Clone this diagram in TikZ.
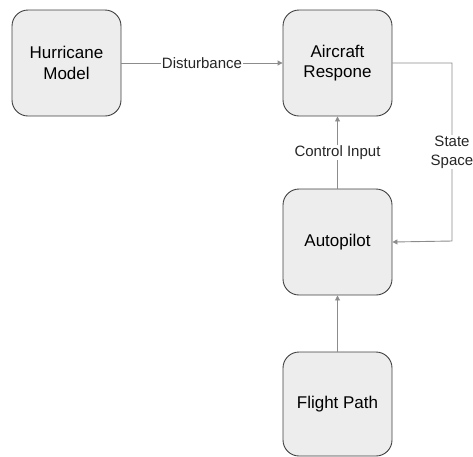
\documentclass[tikz,border=0pt]{standalone}
\usepackage{fontspec}
\setmainfont{Liberation Sans}
\usetikzlibrary{arrows.meta}
\begin{document}
\begin{tikzpicture}[x=1pt,y=-1pt,
  blockbox/.style={draw=black!75, fill=black!7, line width=0.9pt, rounded corners=16pt,
    minimum width=109pt, minimum height=106pt, align=center,
    font=\fontsize{17}{20.5}\selectfont, inner sep=0pt},
  conn/.style={draw=black!45, line width=0.9pt},
  arr/.style={conn, -{Triangle[length=5pt,width=5pt]}},
  lbl/.style={fill=white, inner sep=1pt, align=center, font=\fontsize{15}{19}\selectfont, text=black!85}]
\useasboundingbox (0,0) rectangle (473,456);
\node[blockbox] (hm) at (66.5,63) {Hurricane\\Model};
\node[blockbox] (ar) at (337.5,63) {Aircraft\\Respone};
\node[blockbox] (ap) at (337.5,242) {Autopilot};
\node[blockbox, minimum height=104pt] (fp) at (337.5,404) {Flight Path};
\coordinate (c1) at (452,63);
\coordinate (c2) at (452,241);
\draw[arr] (hm.east) -- node[lbl] {Disturbance} (ar.west);
\draw[arr] (ap.north) -- node[lbl, pos=0.5] {Control Input} (ar.south);
\draw[arr] (ar.east) -- (c1) -- node[lbl, pos=0.5] {State\\Space} (c2) -- (ap.east);
\draw[arr] (fp.north) -- (ap.south);
\end{tikzpicture}
\end{document}
